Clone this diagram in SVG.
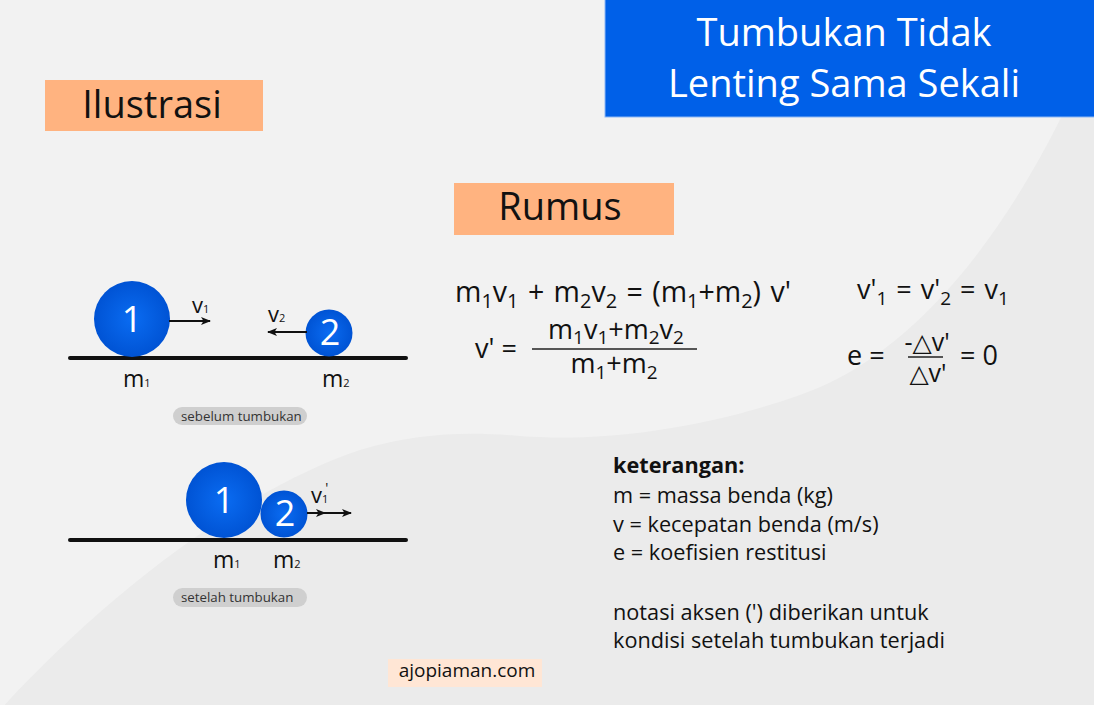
<svg xmlns="http://www.w3.org/2000/svg" width="1094" height="705" viewBox="0 0 1094 705">
<defs>
<radialGradient id="ballGrad" cx="50%" cy="50%" r="50%">
<stop offset="0" stop-color="#0a6cf2"/>
<stop offset="1" stop-color="#0053d4"/>
</radialGradient>
<marker id="arrowhead" viewBox="0 0 10 8" refX="9" refY="4" markerWidth="10" markerHeight="8" markerUnits="userSpaceOnUse" orient="auto">
<path d="M0,0 L10,4 L0,8 L2.5,4 Z" fill="#111"/>
</marker>
<style>
text{font-family:"Open Sans","Noto Sans","DejaVu Sans",sans-serif;fill:#111}
.title{fill:#ffffff;font-size:38px;text-anchor:middle}
.head{font-size:38px;text-anchor:middle}
.headbox{fill:#ffb380}
.ball{fill:url(#ballGrad)}
.num{fill:#ffffff;font-size:36px;text-anchor:middle}
.ground{stroke:#111;stroke-width:4;stroke-linecap:round}
.lbl{font-size:23px}
.tiny{font-size:11px}
.pill{fill:#cfcfcf}
.pilltxt{font-size:13.3px;fill:#333}
.f{font-size:27px}
.s{font-size:19px}
.frac{stroke:#222;stroke-width:1.5}
.arrow{stroke:#111;stroke-width:2.2;fill:none;marker-end:url(#arrowhead)}
.ket{font-size:21.7px}
</style>
</defs>
<rect x="0" y="0" width="1094" height="705" fill="#f2f2f2"/>
<path d="M1094 45 C1030 200 930 350 800 395 C700 430 600 442 520 436 C470 432 420 432 360 450 C240 490 100 600 0 710 L1094 710 Z" fill="#ebebeb"/>

<g id="title">
<rect x="605" y="-2" width="491" height="119" fill="#0060e8" stroke="#8db8f5" stroke-width="1"/>
<text class="title" x="844" y="46">Tumbukan Tidak</text>
<text class="title" x="844" y="97">Lenting Sama Sekali</text>
</g>

<g id="ilustrasi">
<rect class="headbox" x="45" y="80" width="218" height="51"/>
<text class="head" x="152" y="118">Ilustrasi</text>
</g>

<g id="rumus">
<rect class="headbox" x="454" y="183" width="220" height="52"/>
<text class="head" x="560" y="220">Rumus</text>
</g>

<g id="before">
<line class="ground" x1="70" y1="358" x2="406" y2="358"/>
<text class="lbl" x="123" y="387">m<tspan class="tiny">1</tspan></text>
<text class="lbl" x="322" y="387">m<tspan class="tiny">2</tspan></text>
<text class="lbl" x="192" y="313" style="font-size:22px">v<tspan class="tiny">1</tspan></text>
<text class="lbl" x="268" y="322" style="font-size:22px">v<tspan class="tiny">2</tspan></text>
<rect class="pill" x="173" y="407" width="134" height="18" rx="9"/>
<text class="pilltxt" x="181" y="421">sebelum tumbukan</text>
</g>
<g id="ball1-before">
<circle class="ball" cx="132" cy="319" r="38"/>
<text class="num" x="132" y="332">1</text>
</g>
<g id="ball2-before">
<circle class="ball" cx="329" cy="333" r="23.5"/>
<text class="num" x="330" y="345">2</text>
</g>

<g id="after">
<line class="ground" x1="70" y1="540" x2="406" y2="540"/>
<text class="lbl" x="213" y="568">m<tspan class="tiny">1</tspan></text>
<text class="lbl" x="273" y="568">m<tspan class="tiny">2</tspan></text>
<text class="lbl" x="311" y="503" style="font-size:22px">v<tspan class="tiny">1</tspan><tspan dx="-3" dy="-10" style="font-size:14px">'</tspan></text>
<rect class="pill" x="173" y="588" width="134" height="19" rx="9.5"/>
<text class="pilltxt" x="181" y="602">setelah tumbukan</text>
</g>
<g id="ball1-after">
<circle class="ball" cx="224" cy="500" r="38"/>
<text class="num" x="224" y="513">1</text>
</g>
<g id="ball2-after">
<circle class="ball" cx="284" cy="514" r="23.5"/>
<text class="num" x="285" y="526">2</text>
</g>

<g id="connectors">
<line class="arrow" x1="169" y1="321" x2="210" y2="321"/>
<line class="arrow" x1="307" y1="332" x2="268" y2="332"/>
<polyline class="arrow" points="307,513 325,513 351,513" style="marker-mid:url(#arrowhead)"/>
</g>

<g id="formula-momentum">
<text class="f" x="455" y="302" style="font-size:28.5px;word-spacing:2px">m<tspan class="s" dy="6" style="font-size:20px">1</tspan><tspan dy="-6">v</tspan><tspan class="s" dy="6" style="font-size:20px">1</tspan><tspan dy="-6"> + m</tspan><tspan class="s" dy="6" style="font-size:20px">2</tspan><tspan dy="-6">v</tspan><tspan class="s" dy="6" style="font-size:20px">2</tspan><tspan dy="-6"> = (m</tspan><tspan class="s" dy="6" style="font-size:20px">1</tspan><tspan dy="-6">+m</tspan><tspan class="s" dy="6" style="font-size:20px">2</tspan><tspan dy="-6">) v'</tspan></text>
<text class="f" x="475" y="358">v' =</text>
<text class="f" x="616" y="339" text-anchor="middle">m<tspan class="s" dy="5">1</tspan><tspan dy="-5">v</tspan><tspan class="s" dy="5">1</tspan><tspan dy="-5">+m</tspan><tspan class="s" dy="5">2</tspan><tspan dy="-5">v</tspan><tspan class="s" dy="5">2</tspan></text>
<line class="frac" x1="532" y1="349" x2="697" y2="349"/>
<text class="f" x="614" y="373" text-anchor="middle">m<tspan class="s" dy="6">1</tspan><tspan dy="-6">+m</tspan><tspan class="s" dy="6">2</tspan></text>
</g>

<g id="formula-velocity">
<text class="f" x="857" y="299" style="word-spacing:2px">v'<tspan class="s" dy="6">1</tspan><tspan dy="-6"> = v'</tspan><tspan class="s" dy="6">2</tspan><tspan dy="-6"> = v</tspan><tspan class="s" dy="6">1</tspan></text>
<text class="f" x="847" y="365">e =</text>
<text class="f" x="927" y="351" text-anchor="middle" style="font-size:25px">-△v'</text>
<line class="frac" x1="908" y1="357" x2="943" y2="357"/>
<text class="f" x="928" y="382" text-anchor="middle" style="font-size:25px">△v'</text>
<text class="f" x="960" y="365">= 0</text>
</g>

<g id="keterangan">
<text class="ket" x="613" y="473" font-weight="bold">keterangan:</text>
<text class="ket" x="613" y="503">m = massa benda (kg)</text>
<text class="ket" x="613" y="532">v = kecepatan benda (m/s)</text>
<text class="ket" x="613" y="560">e = koefisien restitusi</text>
<text class="ket" x="613" y="620">notasi aksen (') diberikan untuk</text>
<text class="ket" x="613" y="648">kondisi setelah tumbukan terjadi</text>
</g>

<g id="watermark">
<rect x="388" y="659" width="154" height="28" fill="#ffe6d5"/>
<text x="467" y="677" text-anchor="middle" style="font-size:19px">ajopiaman.com</text>
</g>
</svg>
